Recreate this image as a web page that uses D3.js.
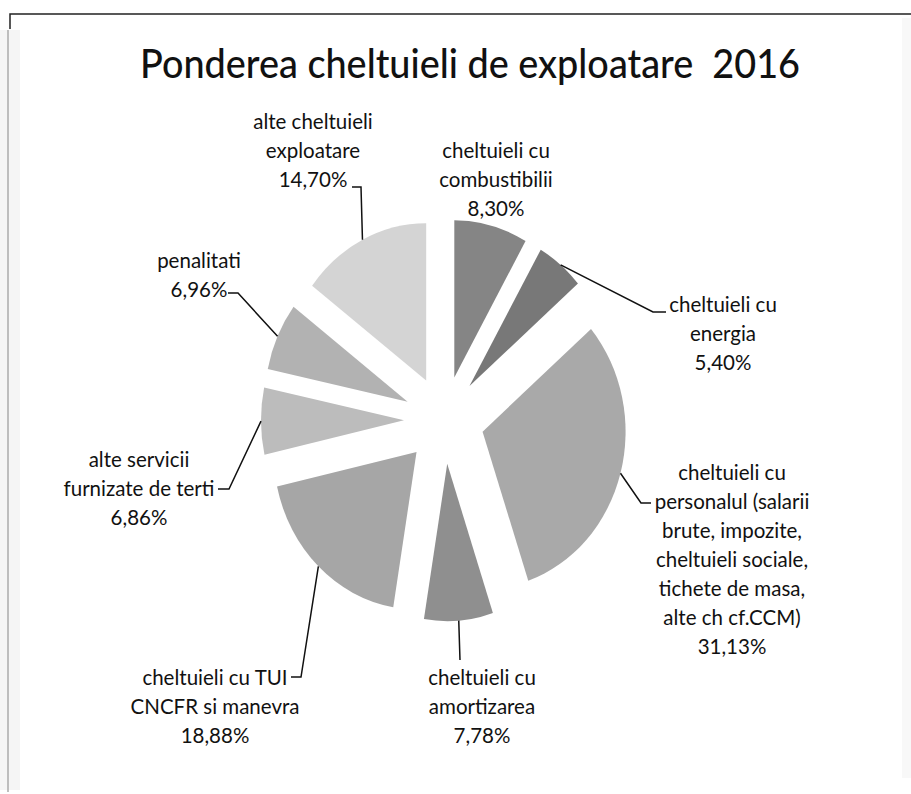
<!DOCTYPE html>
<html>
<head>
<meta charset="utf-8">
<script src="https://cdn.jsdelivr.net/npm/d3@7"></script>
<style>
  body { margin: 0; background: #fff; }
  svg { display: block; }
</style>
</head>
<body>
<div id="chart"></div>
<script>
// data
const categories = [
    "cheltuieli cu combustibilii",
    "cheltuieli cu energia",
    "cheltuieli cu personalul",
    "cheltuieli cu amortizarea",
    "cheltuieli cu TUI CNCFR si manevra",
    "alte servicii furnizate de terti",
    "penalitati",
    "alte cheltuieli exploatare"
]
const values = [8.30, 5.40, 31.13, 7.78, 18.88, 6.86, 6.96, 14.70]
const labelLines = [
    ["cheltuieli cu", "combustibilii"],
    ["cheltuieli cu", "energia"],
    ["cheltuieli cu", "personalul (salarii", "brute, impozite,", "cheltuieli sociale,", "tichete de masa,", "alte ch cf.CCM)"],
    ["cheltuieli cu", "amortizarea"],
    ["cheltuieli cu TUI", "CNCFR si manevra"],
    ["alte servicii", "furnizate de terti"],
    ["penalitati"],
    ["alte cheltuieli", "exploatare"]
]
const colors = ["#858585", "#787878", "#a9a9a9", "#8f8f8f", "#a6a6a6", "#bcbcbc", "#b2b2b2", "#d4d4d4"]

// label layout: center x, y of first line, leader elbow + end (null = no leader)
const labelLayout = [
    { x: 496, y: 152, elbow: null, end: null },
    { x: 723, y: 306, elbow: [653, 312], end: [666, 312] },
    { x: 732, y: 474, elbow: [641, 503], end: [651, 503] },
    { x: 482, y: 679, elbow: [460, 660], end: [460, 660] },
    { x: 215, y: 679, elbow: [301, 677], end: [291, 677] },
    { x: 139, y: 461, elbow: [229, 489], end: [218, 489] },
    { x: 199, y: 262, elbow: [238, 293], end: [228, 293] },
    { x: 313, y: 123, elbow: [361, 187], end: [352, 187] }
]

const width = 911
const height = 794
const cx = 444, cy = 420
const radius = 143
const stretchY = 1.1     // the scanned pie is a bit taller than wide
const explode = 40
const lineH = 29

const svg = d3.select("#chart").append("svg")
    .attr("width", width)
    .attr("height", height)

// scan frame remnants
svg.append("rect").attr("x", 0).attr("y", 30).attr("width", 20).attr("height", 760).attr("fill", "#f5f5f5")
svg.append("line").attr("x1", 8).attr("x2", 8).attr("y1", 30).attr("y2", 792).attr("stroke", "#aaa").attr("stroke-width", 1.5)
svg.append("rect").attr("x", 902).attr("y", 18).attr("width", 9).attr("height", 760).attr("fill", "#f8f8f8")
svg.append("path").attr("d", "M10,29 L10,14 L911,14").attr("fill", "none").attr("stroke", "#222").attr("stroke-width", 1.5)

svg.append("text")
    .attr("x", 470)
    .attr("y", 78)
    .attr("text-anchor", "middle")
    .attr("textLength", 660)
    .attr("lengthAdjust", "spacingAndGlyphs")
    .style("white-space", "pre")
    .style("font-family", "Lato, 'Open Sans', sans-serif")
    .style("font-size", "41px")
    .style("font-weight", 500)
    .style("fill", "#111")
    .text("Ponderea cheltuieli de exploatare  2016")

const pie = d3.pie().sort(null).value(d => d)
const arcs = pie(values)

const arc = d3.arc().innerRadius(0).outerRadius(radius)

const g = svg.append("g")
    .attr("transform", `translate(${cx}, ${cy}) scale(1, ${stretchY})`)

function offset(d, r) {
    const a = (d.startAngle + d.endAngle) / 2
    return [Math.sin(a) * r, -Math.cos(a) * r]
}

g.selectAll("path")
    .data(arcs)
    .join("path")
    .attr("fill", (d, i) => colors[i])
    .attr("transform", d => { const o = offset(d, explode); return `translate(${o[0]}, ${o[1]})` })
    .attr("d", arc)

// leader lines: from the outer edge of each exploded slice to its label
function screenPt(d) {
    const o = offset(d, explode + radius)
    return [cx + o[0], cy + o[1] * stretchY]
}

svg.append("g")
    .selectAll("path")
    .data(arcs.filter((d, i) => labelLayout[i].elbow))
    .join("path")
    .attr("fill", "none")
    .attr("stroke", "#111")
    .attr("stroke-width", 1.5)
    .attr("d", d => {
        const L = labelLayout[d.index]
        return d3.line()([screenPt(d), L.elbow, L.end])
    })

const labels = svg.append("g")
    .selectAll("text")
    .data(arcs)
    .join("text")
    .attr("text-anchor", "middle")
    .style("font-family", "Lato, 'Open Sans', sans-serif")
    .style("font-size", "20.5px")
    .style("fill", "#111")

labels.each(function (d, i) {
    const L = labelLayout[i]
    const lines = labelLines[i].concat([d3.format(".2f")(values[i]).replace(".", ",") + "%"])
    d3.select(this).selectAll("tspan")
        .data(lines)
        .join("tspan")
        .attr("x", L.x)
        .attr("y", (t, k) => L.y + k * lineH + 6)
        .text(t => t)
})
</script>
</body>
</html>
